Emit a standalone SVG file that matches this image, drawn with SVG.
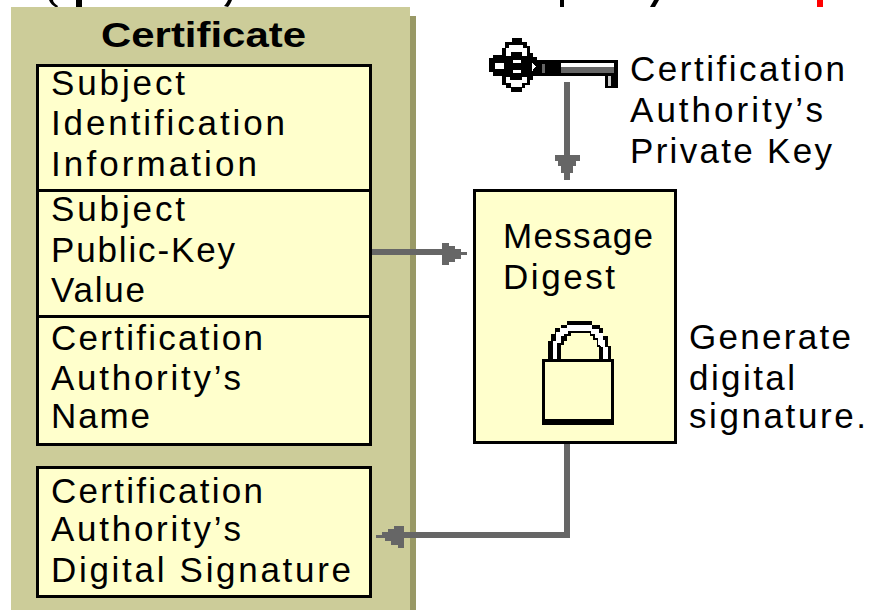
<svg xmlns="http://www.w3.org/2000/svg" width="871" height="610" viewBox="0 0 871 610">
<style>
.t{font-family:"Liberation Sans",Arial,sans-serif;font-size:35px;fill:#000}
.b{font-weight:700}
.panel{fill:#cccc99}
.shadow{fill:#999966}
.box{fill:#ffffcc;stroke:#000;stroke-width:3}
.wire{fill:none;stroke:#666;stroke-width:6}
.head{fill:#666}
.k{fill:#000}
.w{fill:#fff}
.g{fill:#666}
.y{fill:#ffffcc}
</style>
<rect width="871" height="610" fill="#fff"/>
<g id="cropped-top-line">
<path d="M49 0 C50 3 53 6 57 8 L58 6 C55 4 53 2 53 0Z" fill="#000"/>
<rect x="76" y="0" width="6" height="7" fill="#000"/>
<path d="M224 6 L228 7 C230 5 231 2 232 0 L228 0 C227 2 226 4 224 6Z" fill="#000"/>
<rect x="560" y="0" width="4" height="7" fill="#000"/>
<path d="M650 7 L655 7 L659 0 L654 0Z" fill="#000"/>
<rect x="817" y="0" width="6" height="7" fill="#ff0000"/>
</g>
<g id="certificate">
<rect class="shadow" x="410" y="16" width="6" height="594"/>
<rect class="panel" x="11" y="7" width="399" height="603"/>
<text class="t b" x="101" y="47" textLength="205" lengthAdjust="spacingAndGlyphs">Certificate</text>
</g>
<g id="subject-identification">
<rect class="box" x="37.5" y="65.5" width="333" height="125"/>
<text class="t" x="51" y="95" textLength="134">Subject</text>
<text class="t" x="51" y="135" textLength="234">Identification</text>
<text class="t" x="51" y="176" textLength="206">Information</text>
</g>
<g id="subject-public-key">
<rect class="box" x="37.5" y="190.5" width="333" height="126"/>
<text class="t" x="51" y="221" textLength="134">Subject</text>
<text class="t" x="51" y="262" textLength="184">Public-Key</text>
<text class="t" x="51" y="302" textLength="94">Value</text>
</g>
<g id="ca-name">
<rect class="box" x="37.5" y="316.5" width="333" height="128"/>
<text class="t" x="51" y="350" textLength="212">Certification</text>
<text class="t" x="51" y="390" textLength="190">Authority’s</text>
<text class="t" x="51" y="428" textLength="99">Name</text>
</g>
<g id="ca-signature">
<rect class="box" x="37.5" y="467.5" width="333" height="129"/>
<text class="t" x="51" y="503" textLength="212">Certification</text>
<text class="t" x="51" y="541" textLength="190">Authority’s</text>
<text class="t" x="51" y="582" textLength="300">Digital Signature</text>
</g>
<g id="private-key">
<g transform="translate(485 35) scale(.33333)" shape-rendering="crispEdges">
<polygon class="k" points="80,10 112,10 112,20 125,20 125,32 135,32 135,55 145,55 145,65 155,65 155,75 398,75 398,160 360,160 360,122 145,122 145,135 135,135 135,150 120,150 120,160 110,160 110,170 78,170 78,160 62,160 62,150 50,150 50,122 25,122 25,110 12,110 12,70 25,70 25,60 50,60 50,40 60,40 60,20 80,20"/>
<polygon class="w" points="72,30 115,30 115,40 125,40 125,62 112,62 112,50 78,50 78,62 62,62 62,40 72,40"/>
<polygon class="w" points="62,125 75,125 75,135 112,135 112,125 125,125 125,145 112,145 112,155 78,155 78,145 62,145"/>
<rect class="w" x="30" y="85" width="28" height="17"/>
<rect class="w" x="85" y="75" width="22" height="10"/>
<rect class="w" x="85" y="105" width="22" height="10"/>
<polygon class="w" points="140,80 152,95 140,110"/>
<rect class="g" x="170" y="88" width="10" height="27"/>
<rect class="w" x="228" y="85" width="160" height="12"/>
<rect class="g" x="228" y="97" width="160" height="16"/>
<rect x="368" y="122" width="10" height="30" fill="#ccc"/>
</g>
<text class="t" x="630" y="81" textLength="215">Certification</text>
<text class="t" x="630" y="122" textLength="193">Authority’s</text>
<text class="t" x="630" y="163" textLength="202">Private Key</text>
</g>
<g id="message-digest">
<rect class="box" x="474.5" y="190.5" width="201" height="252"/>
<text class="t" x="503" y="248" textLength="150">Message</text>
<text class="t" x="503" y="289" textLength="112">Digest</text>
<g transform="translate(540 318) scale(.33333)" shape-rendering="crispEdges">
<polygon class="k" points="24,122 24,70 33,70 33,48 45,48 45,30 62,30 62,20 80,20 80,8 157,8 157,20 180,20 180,30 190,30 190,55 205,55 205,85 212,85 212,122"/>
<polygon class="w" points="38,122 38,68 47,68 47,42 60,42 60,30 80,30 80,20 157,20 157,32 178,32 178,45 190,45 190,65 195,65 195,88 203,88 203,122"/>
<polygon class="k" points="52,122 52,75 62,75 62,55 72,55 72,48 85,48 85,38 152,38 152,48 165,48 165,60 175,60 175,80 188,88 188,122"/>
<polygon class="y" points="62,122 62,80 72,80 72,68 82,68 82,55 92,55 92,45 150,45 150,55 160,55 160,65 170,65 170,88 178,88 178,122"/>
</g>
<rect class="box" x="543.5" y="360.5" width="69" height="63"/>
<rect class="k" x="542" y="419" width="72" height="6"/>
</g>
<g id="generate-label">
<text class="t" x="689" y="349" textLength="162">Generate</text>
<text class="t" x="689" y="390" textLength="106">digital</text>
<text class="t" x="689" y="428" textLength="177">signature.</text>
</g>
<g id="connectors" shape-rendering="crispEdges">
<path class="wire" d="M567 82 V160"/>
<polygon class="head" points="555,155 580,155 580,161 576,161 576,166 573,166 573,173 570,173 570,180 564,180 564,173 561,173 561,166 558,166 558,161 555,161"/>
<path class="wire" d="M372 252 H445"/>
<polygon class="head" points="442,243 449,243 449,246 455,246 455,249 461,249 461,252 467,252 467,255 461,255 461,259 455,259 455,262 449,262 449,265 442,265"/>
<path class="wire" d="M567 444 V535 H400"/>
<polygon class="head" points="404,526 404,548 398,548 398,545 391,545 391,541 385,541 385,538 376,538 376,535 382,535 382,532 388,532 388,529 394,529 394,526"/>
</g>
</svg>
